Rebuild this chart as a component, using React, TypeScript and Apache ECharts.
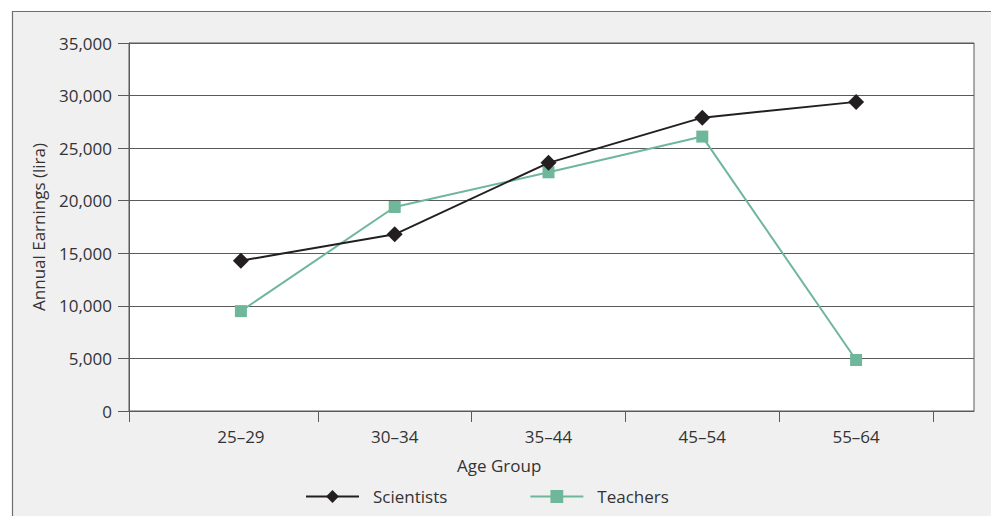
import React, { useEffect, useRef } from 'react';
import * as echarts from 'echarts';

const ageGroups = ['25–29', '30–34', '35–44', '45–54', '55–64'];
const scientists = [14300, 16800, 23600, 27900, 29400];
const teachers = [9500, 19400, 22700, 26100, 4850];
const yMin = 0;
const yMax = 35000;
const yStep = 5000;
const frameSlots = ['start', 'end'];

const FONT = '"Open Sans", sans-serif';
const TEXT = '#333333';
const GRID_LINE = '#5a5a5a';

export default function App() {
  const ref = useRef<HTMLDivElement>(null);
  useEffect(() => {
    if (!ref.current) return;
    const chart = echarts.init(ref.current, undefined, { renderer: 'svg' });
    chart.setOption({
      animation: false,
      backgroundColor: '#ffffff',
      textStyle: { fontFamily: FONT },
      graphic: {
        elements: [
          {
            type: 'rect',
            z: -100,
            zlevel: 0,
            silent: true,
            shape: { x: 12.5, y: 11.5, width: 1000, height: 600 },
            style: { fill: '#f0f0f0', stroke: '#6e6e6e', lineWidth: 1.2 },
          },
        ],
      },
      title: {
        text: 'Age Group',
        left: 457,
        top: 457,
        padding: 0,
        textStyle: { fontFamily: FONT, fontSize: 17, fontWeight: 'normal', color: TEXT },
      },
      legend: {
        left: 305,
        top: 488,
        itemWidth: 53,
        itemHeight: 16,
        itemGap: 82,
        padding: 0,
        textStyle: { fontFamily: FONT, fontSize: 17, color: TEXT, padding: [0, 0, 0, 9] },
        data: ['Scientists', 'Teachers'],
      },
      grid: [
        {
          left: 129,
          right: 17,
          top: 43,
          bottom: 105,
          show: true,
          backgroundColor: '#ffffff',
          borderColor: GRID_LINE,
          borderWidth: 1,
          containLabel: false,
        },
        {
          left: 164,
          right: 58,
          top: 43,
          bottom: 105,
          containLabel: false,
        },
      ],
      xAxis: [
        {
          gridIndex: 0,
          type: 'category',
          data: frameSlots,
          boundaryGap: false,
          axisLine: { show: true, lineStyle: { color: GRID_LINE, width: 1 } },
          axisTick: {
            show: true,
            length: 11,
            interval: (i: number) => i === 0,
            lineStyle: { color: GRID_LINE, width: 1 },
          },
          axisLabel: { show: false },
          splitLine: { show: false },
        },
        {
          gridIndex: 1,
          type: 'category',
          data: ageGroups,
          boundaryGap: true,
          axisLine: { show: false },
          axisTick: {
            show: true,
            length: 11,
            interval: (i: number) => i !== 0,
            lineStyle: { color: GRID_LINE, width: 1 },
          },
          axisLabel: {
            show: true,
            interval: 0,
            margin: 17,
            fontFamily: FONT,
            fontSize: 17,
            color: TEXT,
          },
          splitLine: { show: false },
        },
      ],
      yAxis: [
        {
          gridIndex: 0,
          type: 'value',
          min: yMin,
          max: yMax,
          interval: yStep,
          name: 'Annual Earnings (lira)',
          nameLocation: 'middle',
          nameGap: 82,
          nameTextStyle: { fontFamily: FONT, fontSize: 17, color: TEXT },
          axisLine: { show: true, lineStyle: { color: GRID_LINE, width: 1 } },
          axisTick: { show: true, length: 11, lineStyle: { color: GRID_LINE, width: 1 } },
          axisLabel: {
            margin: 17,
            fontFamily: FONT,
            fontSize: 17,
            color: TEXT,
            formatter: (v: number) => v.toLocaleString('en-US'),
          },
          splitLine: { show: true, lineStyle: { color: GRID_LINE, width: 1 } },
        },
        {
          gridIndex: 1,
          type: 'value',
          min: yMin,
          max: yMax,
          interval: yStep,
          show: false,
          splitLine: { show: false },
        },
      ],
      series: [
        {
          name: 'Scientists',
          type: 'line',
          xAxisIndex: 1,
          yAxisIndex: 1,
          data: scientists,
          symbol: 'diamond',
          symbolSize: 16,
          lineStyle: { color: '#231f20', width: 2 },
          itemStyle: { color: '#231f20' },
          z: 3,
        },
        {
          name: 'Teachers',
          type: 'line',
          xAxisIndex: 1,
          yAxisIndex: 1,
          data: teachers,
          symbol: 'rect',
          symbolSize: 12,
          lineStyle: { color: '#6eb79a', width: 2 },
          itemStyle: { color: '#6eb79a' },
          z: 2,
        },
      ],
    });
    return () => chart.dispose();
  }, []);
  return (
    <div
      ref={ref}
      style={{ position: 'absolute', left: 0, top: 0, width: 991, height: 516 }}
    />
  );
}
